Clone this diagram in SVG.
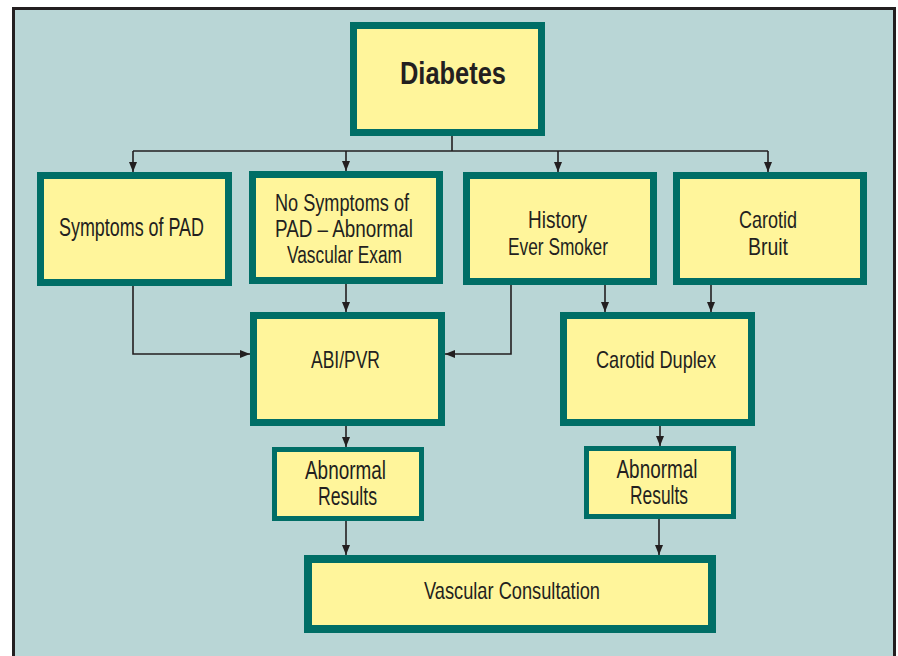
<svg xmlns="http://www.w3.org/2000/svg" width="898" height="656" viewBox="0 0 898 656">
<style>
.box{fill:#fff59b;stroke:#006e66;stroke-width:7}
.thin{stroke-width:5}
.big{stroke-width:8}
.t{font-family:"Liberation Sans",Arial,sans-serif;font-size:25px;fill:#231f20;text-anchor:middle}
.s{font-size:24px}
.n{font-size:23px}
.b{font-weight:bold;font-size:32px}
.c{fill:none;stroke:#231f20;stroke-width:1.6}
</style>
<defs>
<marker id="ah" markerUnits="userSpaceOnUse" markerWidth="10" markerHeight="8" refX="10" refY="4" orient="auto" viewBox="0 0 10 8">
<path d="M0,0 L10,4 L0,8 z" fill="#231f20"/>
</marker>
</defs>
<rect x="0" y="0" width="898" height="656" fill="#ffffff"/>
<rect x="13.5" y="8.5" width="881" height="660" fill="#b9d6d6" stroke="#231f20" stroke-width="3"/>

<g id="connectors">
<path class="c" d="M452,136 V151"/>
<path class="c" d="M133,151 H768"/>
<path class="c" d="M133,151 V172" marker-end="url(#ah)"/>
<path class="c" d="M346,151 V171" marker-end="url(#ah)"/>
<path class="c" d="M558,151 V172" marker-end="url(#ah)"/>
<path class="c" d="M768,151 V172" marker-end="url(#ah)"/>
<path class="c" d="M133,286 V354 H250" marker-end="url(#ah)"/>
<path class="c" d="M346,284 V312" marker-end="url(#ah)"/>
<path class="c" d="M511,285 V354 H445" marker-end="url(#ah)"/>
<path class="c" d="M605,285 V312" marker-end="url(#ah)"/>
<path class="c" d="M711,285 V312" marker-end="url(#ah)"/>
<path class="c" d="M346,426 V447" marker-end="url(#ah)"/>
<path class="c" d="M660,426 V446" marker-end="url(#ah)"/>
<path class="c" d="M346,521 V555" marker-end="url(#ah)"/>
<path class="c" d="M659,519 V555" marker-end="url(#ah)"/>
</g>

<g id="diabetes">
<rect class="box" x="353.5" y="25.5" width="188" height="107"/>
<text class="t b" x="453" y="84" textLength="106" lengthAdjust="spacingAndGlyphs">Diabetes</text>
</g>

<g id="symptoms">
<rect class="box" x="40.5" y="175.5" width="188" height="107"/>
<text class="t" x="131.5" y="236" textLength="145" lengthAdjust="spacingAndGlyphs">Symptoms of PAD</text>
</g>

<g id="nosymptoms">
<rect class="box" x="252.5" y="174.5" width="187" height="106"/>
<text class="t n" x="342" y="211" textLength="134" lengthAdjust="spacingAndGlyphs">No Symptoms of</text>
<text class="t n" x="344" y="237" textLength="138" lengthAdjust="spacingAndGlyphs">PAD – Abnormal</text>
<text class="t n" x="344.5" y="263" textLength="115" lengthAdjust="spacingAndGlyphs">Vascular Exam</text>
</g>

<g id="history">
<rect class="box" x="466.5" y="175.5" width="187" height="106"/>
<text class="t s" x="557.5" y="228" textLength="59" lengthAdjust="spacingAndGlyphs">History</text>
<text class="t s" x="558" y="254.5" textLength="100" lengthAdjust="spacingAndGlyphs">Ever Smoker</text>
</g>

<g id="carotidbruit">
<rect class="box" x="676.5" y="175.5" width="187" height="106"/>
<text class="t s" x="768" y="228" textLength="58" lengthAdjust="spacingAndGlyphs">Carotid</text>
<text class="t s" x="768" y="254.5" textLength="40" lengthAdjust="spacingAndGlyphs">Bruit</text>
</g>

<g id="abipvr">
<rect class="box" x="253.5" y="315.5" width="188" height="107"/>
<text class="t s" x="345.5" y="367.5" textLength="69" lengthAdjust="spacingAndGlyphs">ABI/PVR</text>
</g>

<g id="carotidduplex">
<rect class="box" x="563.5" y="315.5" width="188" height="107"/>
<text class="t s" x="656" y="367.5" textLength="120" lengthAdjust="spacingAndGlyphs">Carotid Duplex</text>
</g>

<g id="abnormal1">
<rect class="box thin" x="274.5" y="449.5" width="147" height="69"/>
<text class="t" x="345.5" y="479" textLength="81" lengthAdjust="spacingAndGlyphs">Abnormal</text>
<text class="t" x="347.5" y="505" textLength="59" lengthAdjust="spacingAndGlyphs">Results</text>
</g>

<g id="abnormal2">
<rect class="box thin" x="586.5" y="448.5" width="147" height="68"/>
<text class="t" x="657" y="477.5" textLength="81" lengthAdjust="spacingAndGlyphs">Abnormal</text>
<text class="t" x="659" y="503.5" textLength="58" lengthAdjust="spacingAndGlyphs">Results</text>
</g>

<g id="vascular">
<rect class="box big" x="308" y="559" width="404" height="70"/>
<text class="t s" x="512" y="598.5" textLength="176" lengthAdjust="spacingAndGlyphs">Vascular Consultation</text>
</g>
</svg>
